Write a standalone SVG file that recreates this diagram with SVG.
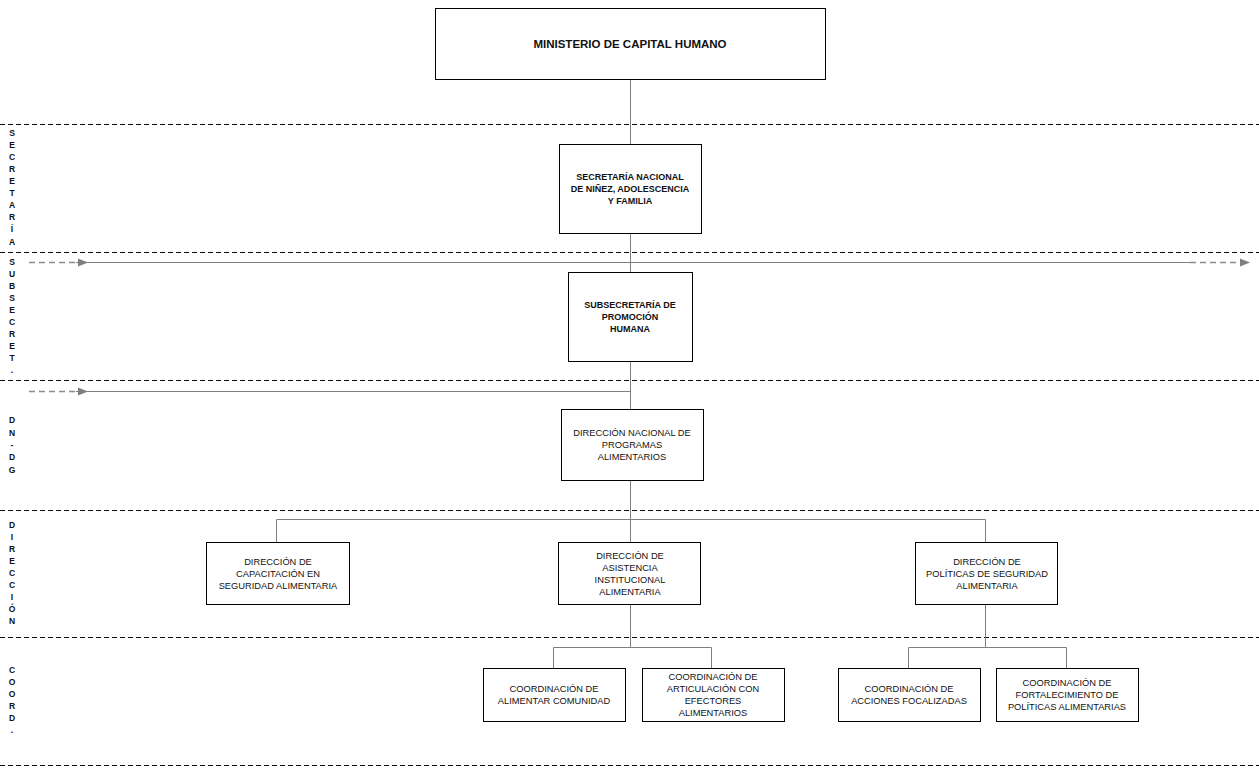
<svg xmlns="http://www.w3.org/2000/svg" width="1259" height="768" viewBox="0 0 1259 768">
<defs>
<style>
.box{fill:#fff;stroke:#000;stroke-width:1}
.t{font-family:"Liberation Sans",Arial,sans-serif;font-size:9.3px;fill:#111;text-anchor:middle}
.b{font-weight:bold;font-size:9px}
.sep{stroke:#000;stroke-width:1;stroke-dasharray:5,3;fill:none}
.c{stroke:#7f7f7f;stroke-width:1;fill:none}
.cd{stroke:#8c8c8c;stroke-width:1.5;stroke-dasharray:6,4;fill:none}
.ah{fill:#7f7f7f}
.lab{font-family:"Liberation Sans",Arial,sans-serif;font-size:8.5px;font-weight:bold;fill:#111;text-anchor:middle}
</style>
</defs>
<rect width="1259" height="768" fill="#fff"/>
<g id="separators">
<line class="sep" x1="0" y1="124.5" x2="1259" y2="124.5"/>
<line class="sep" x1="0" y1="252.5" x2="1259" y2="252.5"/>
<line class="sep" x1="0" y1="380.5" x2="1259" y2="380.5"/>
<line class="sep" x1="0" y1="510.5" x2="1259" y2="510.5"/>
<line class="sep" x1="0" y1="637.5" x2="1259" y2="637.5"/>
<line class="sep" x1="0" y1="765.5" x2="1259" y2="765.5"/>
</g>
<g id="level-labels">
<text class="lab"><tspan x="12" y="136">S</tspan><tspan x="12" y="148">E</tspan><tspan x="12" y="160">C</tspan><tspan x="12" y="172">R</tspan><tspan x="12" y="184">E</tspan><tspan x="12" y="196">T</tspan><tspan x="12" y="208">A</tspan><tspan x="12" y="220">R</tspan><tspan x="12" y="232">Í</tspan><tspan x="12" y="245">A</tspan></text>
<text class="lab"><tspan x="12" y="265">S</tspan><tspan x="12" y="277">U</tspan><tspan x="12" y="289">B</tspan><tspan x="12" y="301">S</tspan><tspan x="12" y="313">E</tspan><tspan x="12" y="325">C</tspan><tspan x="12" y="337">R</tspan><tspan x="12" y="349">E</tspan><tspan x="12" y="361">T</tspan><tspan x="12" y="373">.</tspan></text>
<text class="lab"><tspan x="12" y="423">D</tspan><tspan x="12" y="436">N</tspan><tspan x="12" y="448">-</tspan><tspan x="12" y="460">D</tspan><tspan x="12" y="473">G</tspan></text>
<text class="lab"><tspan x="12" y="528">D</tspan><tspan x="12" y="540">I</tspan><tspan x="12" y="552">R</tspan><tspan x="12" y="564">E</tspan><tspan x="12" y="576">C</tspan><tspan x="12" y="588">C</tspan><tspan x="12" y="600">I</tspan><tspan x="12" y="612">Ó</tspan><tspan x="12" y="624">N</tspan></text>
<text class="lab"><tspan x="12" y="673">C</tspan><tspan x="12" y="685">O</tspan><tspan x="12" y="697">O</tspan><tspan x="12" y="709">R</tspan><tspan x="12" y="721">D</tspan><tspan x="12" y="733">.</tspan></text>
</g>
<g id="connectors">
<line class="c" x1="630.5" y1="79" x2="630.5" y2="144"/>
<line class="c" x1="630.5" y1="233" x2="630.5" y2="272"/>
<line class="c" x1="630.5" y1="361" x2="630.5" y2="409"/>
<line class="c" x1="630.5" y1="480" x2="630.5" y2="542"/>
<polyline class="c" points="276.5,542 276.5,519.5 985.5,519.5 985.5,542"/>
<line class="c" x1="630.5" y1="604" x2="630.5" y2="647"/>
<polyline class="c" points="553.5,668 553.5,647.5 711.5,647.5 711.5,668"/>
<line class="c" x1="985.5" y1="604" x2="985.5" y2="647"/>
<polyline class="c" points="908.5,668 908.5,647.5 1066.5,647.5 1066.5,668"/>
<line class="cd" x1="29" y1="262.5" x2="80" y2="262.5"/>
<line class="c" x1="76" y1="262.5" x2="1190" y2="262.5"/>
<path class="ah" d="M78,258.5 L88,262.5 L78,266.5 Z"/>
<line class="cd" x1="1190" y1="262.5" x2="1242" y2="262.5"/>
<path class="ah" d="M1240,258.5 L1250,262.5 L1240,266.5 Z"/>
<line class="cd" x1="29" y1="391.5" x2="80" y2="391.5"/>
<line class="c" x1="76" y1="391.5" x2="630" y2="391.5"/>
<path class="ah" d="M78,387.5 L88,391.5 L78,395.5 Z"/>
</g>
<g id="n-ministerio">
<rect class="box" x="435.5" y="8.5" width="390" height="71"/>
<text class="t b" x="630" y="48" style="font-size:11.5px">MINISTERIO DE CAPITAL HUMANO</text>
</g>
<g id="n-secretaria">
<rect class="box" x="559.5" y="144.5" width="142" height="89"/>
<text class="t b"><tspan x="630" y="180">SECRETARÍA NACIONAL</tspan><tspan x="630" y="192">DE NIÑEZ, ADOLESCENCIA</tspan><tspan x="630" y="204">Y FAMILIA</tspan></text>
</g>
<g id="n-subsecretaria">
<rect class="box" x="568.5" y="272.5" width="124" height="89"/>
<text class="t b"><tspan x="630" y="308">SUBSECRETARÍA DE</tspan><tspan x="630" y="320">PROMOCIÓN</tspan><tspan x="630" y="332">HUMANA</tspan></text>
</g>
<g id="n-dn">
<rect class="box" x="561.5" y="409.5" width="142" height="71"/>
<text class="t"><tspan x="632" y="436">DIRECCIÓN NACIONAL DE</tspan><tspan x="632" y="448">PROGRAMAS</tspan><tspan x="632" y="460">ALIMENTARIOS</tspan></text>
</g>
<g id="n-capacitacion">
<rect class="box" x="206.5" y="542.5" width="143" height="62"/>
<text class="t"><tspan x="278" y="565">DIRECCIÓN DE</tspan><tspan x="278" y="577">CAPACITACIÓN EN</tspan><tspan x="278" y="589">SEGURIDAD ALIMENTARIA</tspan></text>
</g>
<g id="n-asistencia">
<rect class="box" x="558.5" y="542.5" width="142" height="62"/>
<text class="t"><tspan x="630" y="559">DIRECCIÓN DE</tspan><tspan x="630" y="571">ASISTENCIA</tspan><tspan x="630" y="583">INSTITUCIONAL</tspan><tspan x="630" y="595">ALIMENTARIA</tspan></text>
</g>
<g id="n-politicas">
<rect class="box" x="915.5" y="542.5" width="142" height="62"/>
<text class="t"><tspan x="987" y="565">DIRECCIÓN DE</tspan><tspan x="987" y="577">POLÍTICAS DE SEGURIDAD</tspan><tspan x="987" y="589">ALIMENTARIA</tspan></text>
</g>
<g id="n-alimentar">
<rect class="box" x="483.5" y="668.5" width="142" height="53"/>
<text class="t"><tspan x="554" y="692">COORDINACIÓN DE</tspan><tspan x="554" y="704">ALIMENTAR COMUNIDAD</tspan></text>
</g>
<g id="n-articulacion">
<rect class="box" x="642.5" y="668.5" width="142" height="53"/>
<text class="t"><tspan x="713" y="680">COORDINACIÓN DE</tspan><tspan x="713" y="692">ARTICULACIÓN CON</tspan><tspan x="713" y="704">EFECTORES</tspan><tspan x="713" y="716">ALIMENTARIOS</tspan></text>
</g>
<g id="n-acciones">
<rect class="box" x="838.5" y="668.5" width="142" height="53"/>
<text class="t"><tspan x="909" y="692">COORDINACIÓN DE</tspan><tspan x="909" y="704">ACCIONES FOCALIZADAS</tspan></text>
</g>
<g id="n-fortalecimiento">
<rect class="box" x="996.5" y="668.5" width="142" height="53"/>
<text class="t"><tspan x="1067" y="686">COORDINACIÓN DE</tspan><tspan x="1067" y="698">FORTALECIMIENTO DE</tspan><tspan x="1067" y="710">POLÍTICAS ALIMENTARIAS</tspan></text>
</g>
</svg>
